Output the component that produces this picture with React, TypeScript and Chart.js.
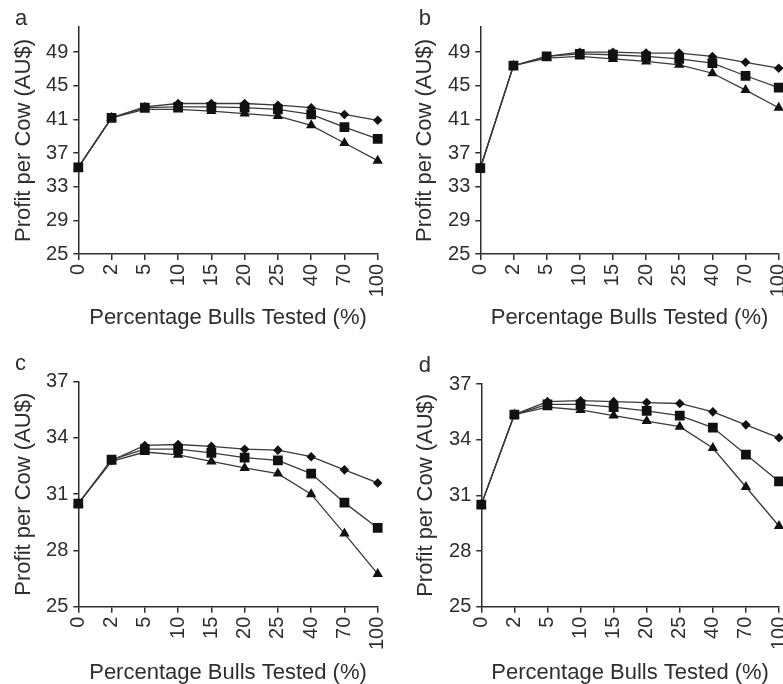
import { useEffect, useRef } from "react";
import { Chart, registerables } from "chart.js";

Chart.register(...registerables);

// Share of bulls progeny-tested (%), shown as evenly spaced categories
const percentTested = ["0", "2", "5", "10", "15", "20", "25", "40", "70", "100"];

// Y tick values
const ticksAB = [25, 29, 33, 37, 41, 45, 49];
const ticksCD = [25, 28, 31, 34, 37];

// Panel a — profit per cow (AU$)
const aDiamond = [35.3, 41.2, 42.5, 42.9, 42.9, 42.9, 42.7, 42.4, 41.6, 40.9];
const aSquare = [35.3, 41.2, 42.4, 42.5, 42.5, 42.4, 42.2, 41.6, 40.1, 38.7];
const aTriangle = [35.3, 41.2, 42.2, 42.2, 42.0, 41.7, 41.4, 40.3, 38.2, 36.1];

// Panel b
const bDiamond = [35.2, 47.4, 48.5, 49.0, 49.0, 48.9, 48.9, 48.5, 47.8, 47.1];
const bSquare = [35.2, 47.4, 48.5, 48.8, 48.7, 48.5, 48.2, 47.7, 46.2, 44.8];
const bTriangle = [35.2, 47.4, 48.3, 48.5, 48.2, 47.9, 47.5, 46.5, 44.5, 42.4];

// Panel c
const cDiamond = [30.5, 32.8, 33.6, 33.65, 33.55, 33.4, 33.35, 33.0, 32.3, 31.6];
const cSquare = [30.5, 32.85, 33.4, 33.4, 33.2, 32.95, 32.8, 32.1, 30.55, 29.2];
const cTriangle = [30.5, 32.75, 33.25, 33.1, 32.75, 32.4, 32.1, 31.0, 28.9, 26.75];

// Panel d
const dDiamond = [30.5, 35.35, 36.05, 36.1, 36.05, 36.0, 35.95, 35.5, 34.8, 34.1];
const dSquare = [30.5, 35.35, 35.9, 35.9, 35.75, 35.55, 35.3, 34.65, 33.2, 31.75];
const dTriangle = [30.5, 35.35, 35.75, 35.6, 35.3, 35.0, 34.7, 33.55, 31.45, 29.35];

const INK = "#2e2e2e";
const LINE = "#3a3a3a";
const MARK = "#111111";
const FONT = "'Liberation Sans', Arial, Helvetica, sans-serif";

type PanelSpec = {
  letter: string;
  diamond: number[];
  square: number[];
  triangle: number[];
  yMin: number;
  yMax: number;
  yTicks: number[];
  box: { left: number; top: number; width: number; height: number };
  yAxisWidth: number;
  xAxisHeight: number;
  padTop: number;
  padRight: number;
  yTitlePad: number;
  xTitlePad: number;
  letterPos: [number, number];
};

const panels: PanelSpec[] = [
  {
    letter: "a", diamond: aDiamond, square: aSquare, triangle: aTriangle,
    yMin: 25, yMax: 52, yTicks: ticksAB,
    box: { left: 0, top: 0, width: 392, height: 342 },
    yAxisWidth: 78.3, xAxisHeight: 88, padTop: 27, padRight: 14.3,
    yTitlePad: 10.8, xTitlePad: 10.8, letterPos: [15, 25],
  },
  {
    letter: "b", diamond: bDiamond, square: bSquare, triangle: bTriangle,
    yMin: 25, yMax: 52, yTicks: ticksAB,
    box: { left: 392, top: 0, width: 400, height: 342 },
    yAxisWidth: 88.3, xAxisHeight: 88, padTop: 27, padRight: 13.3,
    yTitlePad: 19.8, xTitlePad: 10.8, letterPos: [26.7, 25],
  },
  {
    letter: "c", diamond: cDiamond, square: cSquare, triangle: cTriangle,
    yMin: 25, yMax: 37, yTicks: ticksCD,
    box: { left: 0, top: 342, width: 392, height: 350 },
    yAxisWidth: 78.3, xAxisHeight: 85.3, padTop: 39.7, padRight: 14.3,
    yTitlePad: 10.8, xTitlePad: 5.8, letterPos: [15, 28],
  },
  {
    letter: "d", diamond: dDiamond, square: dSquare, triangle: dTriangle,
    yMin: 25, yMax: 37, yTicks: ticksCD,
    box: { left: 392, top: 342, width: 400, height: 350 },
    yAxisWidth: 89.3, xAxisHeight: 85.3, padTop: 42, padRight: 13,
    yTitlePad: 20.8, xTitlePad: 5.8, letterPos: [26.7, 29.7],
  },
];

// Draws the small panel letter in the top-left corner
const panelLetter = {
  id: "panelLetter",
  afterDraw(chart: any, _args: any, opts: any) {
    const ctx = chart.ctx;
    ctx.save();
    ctx.font = `22px ${FONT}`;
    ctx.fillStyle = INK;
    ctx.textBaseline = "alphabetic";
    ctx.textAlign = "left";
    ctx.fillText(opts.text, opts.x, opts.y);
    ctx.restore();
  },
};

function series(data: number[], pointStyle: string, radius: number) {
  return {
    data,
    borderColor: LINE,
    borderWidth: 1.3,
    backgroundColor: MARK,
    pointStyle,
    pointRadius: radius,
    pointHoverRadius: radius,
    pointBackgroundColor: MARK,
    pointBorderColor: MARK,
    pointBorderWidth: 0,
    tension: 0,
    fill: false,
  };
}

function ProfitPanel({ spec }: { spec: PanelSpec }) {
  const ref = useRef<HTMLCanvasElement | null>(null);

  useEffect(() => {
    if (!ref.current) return;
    const chart = new Chart(ref.current, {
      type: "line",
      data: {
        labels: percentTested,
        datasets: [
          series(spec.square, "rect", 6.9) as any,
          series(spec.diamond, "rectRot", 4.8) as any,
          series(spec.triangle, "triangle", 6.0) as any,
        ],
      },
      options: {
        responsive: false,
        animation: false,
        events: [],
        layout: { padding: { top: spec.padTop, right: spec.padRight, left: 0, bottom: 0 } },
        plugins: {
          legend: { display: false },
          tooltip: { enabled: false },
          panelLetter: { text: spec.letter, x: spec.letterPos[0], y: spec.letterPos[1] },
        } as any,
        scales: {
          x: {
            type: "category",
            offset: false,
            grid: {
              display: true,
              drawOnChartArea: false,
              drawTicks: true,
              tickLength: 6,
              color: INK,
              lineWidth: 1.5,
              offset: false,
            },
            border: { display: true, color: INK, width: 1.5 },
            ticks: {
              autoSkip: false,
              minRotation: 90,
              maxRotation: 90,
              padding: 4,
              color: INK,
              font: { size: 20, family: FONT },
            },
            title: {
              display: true,
              text: "Percentage Bulls Tested (%)",
              color: INK,
              font: { size: 22, family: FONT },
              padding: { top: 0, bottom: spec.xTitlePad },
            },
            afterFit: (s: any) => {
              s.height = spec.xAxisHeight;
              s.paddingLeft = 0;
              s.paddingRight = 0;
            },
          },
          y: {
            type: "linear",
            min: spec.yMin,
            max: spec.yMax,
            afterBuildTicks: (s: any) => {
              s.ticks = spec.yTicks.map((v) => ({ value: v }));
            },
            grid: {
              display: true,
              drawOnChartArea: false,
              drawTicks: true,
              tickLength: 5,
              color: INK,
              lineWidth: 1.5,
            },
            border: { display: true, color: INK, width: 1.5 },
            ticks: {
              padding: 5,
              color: INK,
              font: { size: 20, family: FONT },
            },
            title: {
              display: true,
              text: "Profit per Cow (AU$)",
              color: INK,
              font: { size: 22, family: FONT },
              padding: { top: spec.yTitlePad, bottom: 0 },
            },
            afterFit: (s: any) => {
              s.width = spec.yAxisWidth;
              s.paddingTop = 0;
              s.paddingBottom = 0;
            },
          },
        },
      },
      plugins: [panelLetter as any],
    });
    return () => chart.destroy();
  }, [spec]);

  const { left, top, width, height } = spec.box;
  return (
    <canvas
      ref={ref}
      width={width}
      height={height}
      style={{ position: "absolute", left, top, width, height }}
    />
  );
}

export default function App() {
  return (
    <div
      style={{
        position: "fixed",
        left: 0,
        top: 0,
        width: 783,
        height: 684,
        overflow: "hidden",
        background: "#ffffff",
      }}
    >
      {panels.map((p) => (
        <ProfitPanel key={p.letter} spec={p} />
      ))}
    </div>
  );
}
